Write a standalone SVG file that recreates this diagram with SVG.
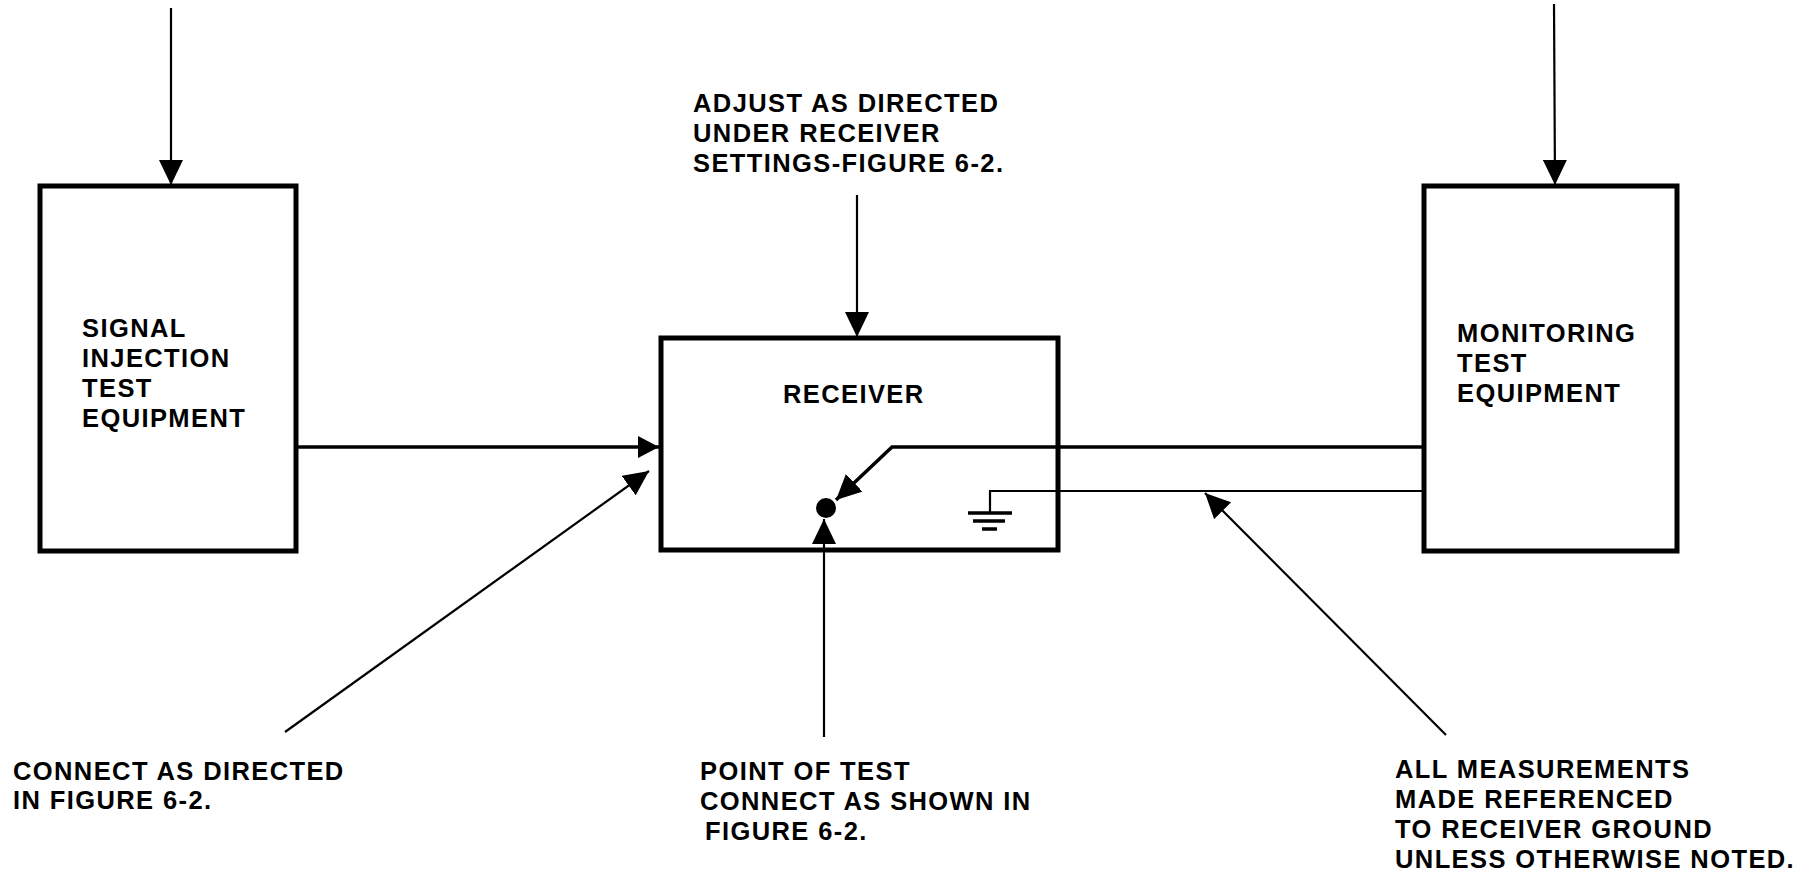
<svg xmlns="http://www.w3.org/2000/svg" width="1810" height="875" viewBox="0 0 1810 875">
<defs>
<style>
.box{fill:none;stroke:#000;stroke-width:5;stroke-linejoin:miter}
.wire{fill:none;stroke:#000;stroke-width:3.5;stroke-linejoin:miter}
.lead{fill:none;stroke:#000;stroke-width:2.2}
.t{font-family:"Liberation Sans",Arial,sans-serif;font-weight:bold;font-size:25.5px;letter-spacing:1.4px;fill:#000}
</style>
<marker id="ah" markerUnits="userSpaceOnUse" markerWidth="26" markerHeight="24" refX="25" refY="12" orient="auto" viewBox="0 0 26 24">
<path d="M0,0 L25,12 L0,24 Z" fill="#000"/>
</marker>
<marker id="ahs" markerUnits="userSpaceOnUse" markerWidth="22" markerHeight="22" refX="21" refY="11" orient="auto" viewBox="0 0 22 22">
<path d="M0,0 L21,11 L0,22 Z" fill="#000"/>
</marker>
</defs>
<rect width="1810" height="875" fill="#fff"/>

<g id="signal-injection">
<rect class="box" x="40" y="186" width="256" height="365"/>
<text class="t" x="82" y="337">SIGNAL</text>
<text class="t" x="82" y="367">INJECTION</text>
<text class="t" x="82" y="397">TEST</text>
<text class="t" x="82" y="427">EQUIPMENT</text>
</g>

<g id="receiver">
<rect class="box" x="661" y="338" width="397" height="212"/>
<text class="t" x="783" y="403">RECEIVER</text>
<circle cx="826" cy="508" r="10" fill="#000"/>
<g class="wire">
<line x1="968" y1="513" x2="1012" y2="513"/>
<line x1="973" y1="521" x2="1005" y2="521"/>
<line x1="982" y1="529" x2="997" y2="529"/>
</g>
</g>

<g id="monitoring">
<rect class="box" x="1424" y="186" width="253" height="365"/>
<text class="t" x="1457" y="342">MONITORING</text>
<text class="t" x="1457" y="372">TEST</text>
<text class="t" x="1457" y="402">EQUIPMENT</text>
</g>

<g id="connectors">
<line class="lead" x1="171" y1="8" x2="171" y2="185" marker-end="url(#ah)"/>
<line class="lead" x1="1554" y1="4" x2="1555" y2="185" marker-end="url(#ah)"/>
<line class="lead" x1="857" y1="195" x2="857" y2="337" marker-end="url(#ah)"/>
<line class="wire" x1="298" y1="447" x2="659" y2="447" marker-end="url(#ahs)"/>
<line class="lead" x1="285" y1="732" x2="649" y2="471" marker-end="url(#ah)"/>
<line class="lead" x1="824" y1="737" x2="824" y2="519" marker-end="url(#ah)"/>
<polyline class="wire" points="1424,447 892,447 836,500" marker-end="url(#ah)"/>
<polyline class="lead" points="1424,491 990,491 990,513"/>
<line class="lead" x1="1446" y1="735" x2="1205" y2="493" marker-end="url(#ah)"/>
</g>

<g id="labels">
<text class="t" x="693" y="112">ADJUST AS DIRECTED</text>
<text class="t" x="693" y="142">UNDER RECEIVER</text>
<text class="t" x="693" y="172">SETTINGS-FIGURE 6-2.</text>
<text class="t" x="13" y="780">CONNECT AS DIRECTED</text>
<text class="t" x="13" y="809">IN FIGURE 6-2.</text>
<text class="t" x="700" y="780">POINT OF TEST</text>
<text class="t" x="700" y="810">CONNECT AS SHOWN IN</text>
<text class="t" x="705" y="840">FIGURE 6-2.</text>
<text class="t" x="1395" y="778">ALL MEASUREMENTS</text>
<text class="t" x="1395" y="808">MADE REFERENCED</text>
<text class="t" x="1395" y="838">TO RECEIVER GROUND</text>
<text class="t" x="1395" y="868">UNLESS OTHERWISE NOTED.</text>
</g>
</svg>
